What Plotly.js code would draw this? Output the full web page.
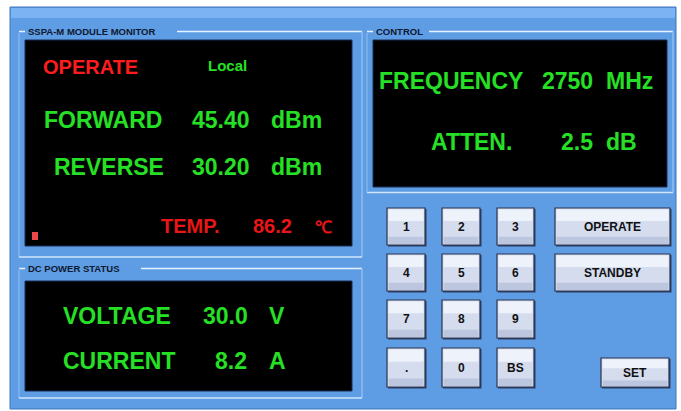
<!DOCTYPE html>
<html><head><meta charset="utf-8">
<script src="https://cdn.plot.ly/plotly-3.0.1.min.js"></script>
<style>html,body{margin:0;padding:0;background:#fff}#chart{width:681px;height:411px}</style>
</head><body><div id="chart"></div>
<script>
// ---- data ----
const groupTitles = ["SSPA-M MODULE MONITOR", "CONTROL", "DC POWER STATUS"];
const modeText = "OPERATE";
const sourceText = "Local";
const powerLabels = ["FORWARD", "REVERSE"];
const powerValues = [45.40, 30.20];
const powerUnits = ["dBm", "dBm"];
const tempLabel = "TEMP.";
const tempValue = 86.2;
const tempUnit = "\u2103";
const controlLabels = ["FREQUENCY", "ATTEN."];
const controlValues = [2750, 2.5];
const controlDigits = [0, 1];
const controlUnits = ["MHz", "dB"];
const dcLabels = ["VOLTAGE", "CURRENT"];
const dcValues = [30.0, 8.2];
const dcUnits = ["V", "A"];
const keypadKeys = ["1","2","3","4","5","6","7","8","9",".","0","BS"];
const commandKeys = ["OPERATE", "STANDBY", "SET"];

// ---- layout constants ----
const W = 681, H = 411;
const BLUE = "#5e9de4", GREEN = "#26e026", RED = "#ff1c1c";
const FONT = "Liberation Sans, Arial, sans-serif";
const shapes = [];
const ann = [];
function rect(x0,y0,x1,y1,fill,line,lw){shapes.push({type:"rect",xref:"x",yref:"y",x0,y0,x1,y1,fillcolor:fill,line:{color:line||"rgba(0,0,0,0)",width:lw||0},layer:"below"});}
function seg(x0,y0,x1,y1,color,w){shapes.push({type:"line",xref:"x",yref:"y",x0,y0,x1,y1,line:{color,width:w||1},layer:"below"});}
function txt(x,y,t,size,color,anchor,bold){ann.push({x,y,xref:"x",yref:"y",text:bold===false?t:"<b>"+t+"</b>",showarrow:false,xanchor:anchor||"left",yanchor:"middle",font:{family:FONT,size,color}});}

// panel
rect(10,7,676,409,BLUE,"#3f74bd",1);
rect(11,8,675,18,"#7cb3f2");
// group boxes
function groupBox(x0,y0,x1,y1,title,tw){
  seg(x0,y0,x0+6,y0,"#e6f1ff",1.5);
  seg(x0+8+tw,y0,x1,y0,"#e6f1ff",1.5);
  seg(x0,y0+1.5,x0,y1,"#8fbdf2",1);
  seg(x1,y0,x1,y1,"#8fbdf2",1.5);
  seg(x0,y1,x1,y1,"#cfe4fc",1.5);
  txt(x0+7,y0,title,9.5,"#0e1830","left");
}
groupBox(19,31.5,362,257,groupTitles[0],150);
groupBox(367,31.5,673,192.5,groupTitles[1],54);
groupBox(19,268.5,362,398,groupTitles[2],114);
// displays
rect(25,40,352,246,"#000","#1b2d55",1);
rect(373,40,667,187,"#000","#1b2d55",1);
rect(25,281,352,391,"#000","#1b2d55",1);
rect(32,232,38,240,"#e84848");

// display texts
txt(41,67,modeText,20,RED);
txt(206,65,sourceText,15,GREEN);
const pY = [120,167];
powerLabels.forEach((l,i)=>{
  txt(i===0?42:52,pY[i],l,23,GREEN);
  txt(190,pY[i],powerValues[i].toFixed(2),23,GREEN);
  txt(269,pY[i],powerUnits[i],23,GREEN);
});
txt(159,226,tempLabel,20,"#e81616");
txt(251,226,tempValue.toFixed(1),20,"#e81616");
txt(313,227,tempUnit,17,"#e81616","left");
const cX = [377,429], cY = [81,142], cVX=[540,559];
controlLabels.forEach((l,i)=>{
  txt(cX[i],cY[i],l,23,GREEN);
  txt(cVX[i],cY[i],controlValues[i].toFixed(controlDigits[i]),23,GREEN);
  txt(604,cY[i],controlUnits[i],23,GREEN);
});
const dY = [316,361], dVX=[201,213];
dcLabels.forEach((l,i)=>{
  txt(61,dY[i],l,23,GREEN);
  txt(dVX[i],dY[i],dcValues[i].toFixed(1),23,GREEN);
  txt(267,dY[i],dcUnits[i],23,GREEN);
});

// buttons
function button(x0,y0,x1,y1,label){
  rect(x0+1,y0+1,x1+1.5,y1+1.5,"#2d3f63");
  rect(x0,y0,x1,y1,"#d4dcee","#2a3550",1.2);
  rect(x0+1.5,y0+1.5,x1-1.5,y0+(y1-y0)*0.35,"#eef2fb");
  rect(x0+1.5,y1-(y1-y0)*0.22,x1-1.5,y1-1,"#bcc7df");
  txt((x0+x1)/2,(y0+y1)/2,label,12,"#111","center");
}
const colX = [[387,425],[442,480],[497,534]];
const rowY = [[208,245],[254,291],[300,338],[348,387]];
keypadKeys.forEach((k,i)=>{
  const c = colX[i%3], r = rowY[Math.floor(i/3)];
  button(c[0],r[0],c[1],r[1],k);
});
button(555,208,670,245,commandKeys[0]);
button(555,254,670,291,commandKeys[1]);
button(601,358,669,387,commandKeys[2]);

const layout = {
  width:W, height:H, margin:{l:0,r:0,t:0,b:0},
  paper_bgcolor:"#fff", plot_bgcolor:"#fff",
  xaxis:{range:[0,W],visible:false,fixedrange:true},
  yaxis:{range:[H,0],visible:false,fixedrange:true},
  shapes, annotations:ann, showlegend:false
};
Plotly.newPlot("chart",[{x:[0],y:[0],mode:"markers",marker:{opacity:0},hoverinfo:"skip"}],layout,{staticPlot:true,displayModeBar:false});
</script></body></html>
